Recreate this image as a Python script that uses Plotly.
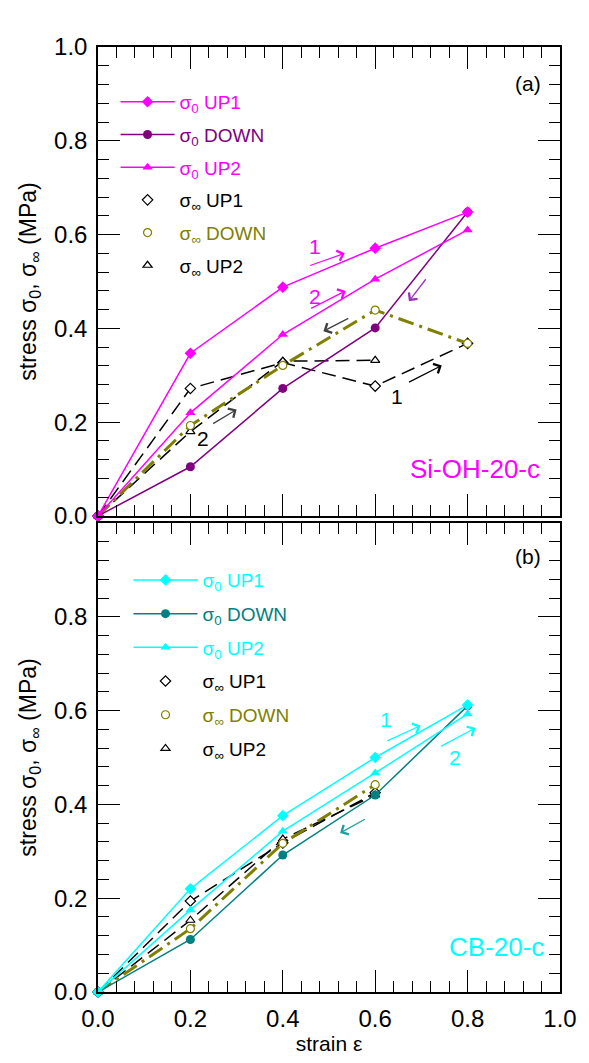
import plotly.graph_objects as go

# strain levels (shared by both samples)
strain = [0.0, 0.2, 0.4, 0.6, 0.8]
strain_short = [0.0, 0.2, 0.4, 0.6]

# (a) Si-OH-20-c  -- stresses in MPa
a_s0_up1 = [0.0, 0.347, 0.488, 0.571, 0.648]
a_s0_down = [0.0, 0.105, 0.272, 0.401, 0.648]
a_s0_up2 = [0.0, 0.220, 0.387, 0.505, 0.610]
a_sinf_up1 = [0.0, 0.272, 0.327, 0.277, 0.368]
a_sinf_down = [0.0, 0.193, 0.321, 0.439, 0.368]
a_sinf_up2 = [0.0, 0.180, 0.330, 0.332]

# (b) CB-20-c
b_s0_up1 = [0.0, 0.220, 0.376, 0.500, 0.612]
b_s0_down = [0.0, 0.112, 0.292, 0.420, 0.610]
b_s0_up2 = [0.0, 0.175, 0.343, 0.467, 0.593]
b_sinf_up1 = [0.0, 0.194, 0.318, 0.425]
b_sinf_down = [0.0, 0.135, 0.317, 0.442]
b_sinf_up2 = [0.0, 0.153, 0.326, 0.420]

tick_vals = [0.0, 0.2, 0.4, 0.6, 0.8, 1.0]
tick_text_a = ["0.0", "0.2", "0.4", "0.6", "0.8", "1.0"]
tick_text_b = ["0.0", "0.2", "0.4", "0.6", "0.8", ""]

FONT = "Liberation Sans, Arial, sans-serif"
MAGENTA = "#ff00ff"
PURPLE = "#800080"
CYAN = "#00ffff"
TEAL = "#008080"
OLIVE = "#808000"
BLACK = "#000000"

fig = go.Figure()


def label(txt, color):
    return f'<span style="color:{color}">{txt}</span>'


def add_panel(xa, ya, leg, c_up, c_down, s0_up1, s0_down, s0_up2,
              sinf_up1, x_up1, sinf_down, x_down, sinf_up2, x_up2, tag):
    # sigma_infinity curves (drawn underneath)
    fig.add_trace(go.Scatter(
        x=x_up1, y=sinf_up1, xaxis=xa, yaxis=ya, mode="lines+markers",
        line=dict(color=BLACK, width=1.5, dash="14px,7px"),
        marker=dict(symbol="diamond", size=8, color="white",
                    line=dict(color=BLACK, width=1.2)),
        cliponaxis=False, showlegend=False, legendgroup=tag + "4"))
    fig.add_trace(go.Scatter(
        x=x_up2, y=sinf_up2, xaxis=xa, yaxis=ya, mode="lines+markers",
        line=dict(color=BLACK, width=1.5, dash="14px,7px"),
        marker=dict(symbol="triangle-up", size=8, color="white",
                    line=dict(color=BLACK, width=1.2)),
        cliponaxis=False, showlegend=False, legendgroup=tag + "6"))
    fig.add_trace(go.Scatter(
        x=x_down, y=sinf_down, xaxis=xa, yaxis=ya, mode="lines+markers",
        line=dict(color=OLIVE, width=3, dash="16px,6px,3px,6px"),
        marker=dict(symbol="circle", size=8, color="white",
                    line=dict(color=OLIVE, width=1.2)),
        cliponaxis=False, showlegend=False, legendgroup=tag + "5"))
    # sigma_0 curves
    fig.add_trace(go.Scatter(
        x=strain, y=s0_down, xaxis=xa, yaxis=ya, mode="lines+markers",
        line=dict(color=c_down, width=1.5),
        marker=dict(symbol="circle", size=9, color=c_down),
        cliponaxis=False, legend=leg, legendgroup=tag + "2", legendrank=2,
        name=label("σ<sub>0</sub> DOWN", c_down)))
    fig.add_trace(go.Scatter(
        x=strain, y=s0_up2, xaxis=xa, yaxis=ya, mode="lines+markers",
        line=dict(color=c_up, width=1.5),
        marker=dict(symbol="triangle-up", size=9, color=c_up),
        cliponaxis=False, legend=leg, legendgroup=tag + "3", legendrank=3,
        name=label("σ<sub>0</sub> UP2", c_up)))
    fig.add_trace(go.Scatter(
        x=strain, y=s0_up1, xaxis=xa, yaxis=ya, mode="lines+markers",
        line=dict(color=c_up, width=1.5),
        marker=dict(symbol="diamond", size=9, color=c_up),
        cliponaxis=False, legend=leg, legendgroup=tag + "1", legendrank=1,
        name=label("σ<sub>0</sub> UP1", c_up)))
    # marker-only legend keys for the sigma_infinity curves
    keys = [("diamond", BLACK, "σ<sub>∞</sub> UP1", "4", 4),
            ("circle", OLIVE, "σ<sub>∞</sub> DOWN", "5", 5),
            ("triangle-up", BLACK, "σ<sub>∞</sub> UP2", "6", 6)]
    for sym, col, txt, g, rank in keys:
        fig.add_trace(go.Scatter(
            x=[None], y=[None], xaxis=xa, yaxis=ya, mode="markers",
            marker=dict(symbol=sym, size=8, color="white",
                        line=dict(color=col, width=1.2)),
            legend=leg, legendgroup=tag + g, legendrank=rank,
            name=label(txt, col)))


add_panel("x", "y", "legend", MAGENTA, PURPLE, a_s0_up1, a_s0_down, a_s0_up2,
          a_sinf_up1, strain, a_sinf_down, strain, a_sinf_up2, strain_short, "a")
add_panel("x2", "y2", "legend2", CYAN, TEAL, b_s0_up1, b_s0_down, b_s0_up2,
          b_sinf_up1, strain_short, b_sinf_down, strain_short, b_sinf_up2,
          strain_short, "b")

axis_common = dict(
    range=[0, 1], showgrid=False, zeroline=False, showline=True,
    linecolor=BLACK, linewidth=1.5, mirror="allticks",
    ticks="inside", ticklen=22, tickwidth=1.3, tickcolor=BLACK,
    tickvals=tick_vals,
    minor=dict(dtick=0.04, tick0=0, ticks="inside", ticklen=11,
               tickwidth=1.3, tickcolor=BLACK),
    tickfont=dict(family=FONT, size=24, color=BLACK),
)

ytitle = "stress σ<sub>0</sub>, σ<sub>∞</sub> (MPa)"

fig.update_layout(
    width=589, height=1063,
    margin=dict(l=98, r=22, t=47, b=71),
    paper_bgcolor="white", plot_bgcolor="white",
    font=dict(family=FONT, color=BLACK),
    xaxis=dict(axis_common, anchor="y", domain=[0, 1], showticklabels=False),
    yaxis=dict(axis_common, anchor="x", domain=[0.5037, 1.0],
               ticktext=tick_text_a, ticklabelstandoff=4,
               title=dict(text=ytitle, font=dict(family=FONT, size=23),
                          standoff=11)),
    xaxis2=dict(axis_common, anchor="y2", domain=[0, 1],
                ticktext=["0.0", "0.2", "0.4", "0.6", "0.8", "1.0"],
                ticklabelstandoff=4,
                title=dict(text="strain ε", font=dict(family=FONT, size=21),
                           standoff=4)),
    yaxis2=dict(axis_common, anchor="x2", domain=[0, 0.4963],
                ticktext=tick_text_b, ticklabelstandoff=4,
                title=dict(text=ytitle, font=dict(family=FONT, size=23),
                           standoff=11)),
    legend=dict(x=0.038, y=0.962, xanchor="left", yanchor="top",
                bgcolor="rgba(0,0,0,0)", tracegroupgap=5, itemwidth=54,
                font=dict(family=FONT, size=19)),
    legend2=dict(x=0.066, y=0.456, xanchor="left", yanchor="top",
                 bgcolor="rgba(0,0,0,0)", tracegroupgap=6, itemwidth=64,
                 font=dict(family=FONT, size=19)),
)

# direction arrows: (tail x, tail y, head x, head y, colour, axes)
arrows = [
    (0.456, 0.533, 0.534, 0.560, MAGENTA, "x", "y"),
    (0.458, 0.441, 0.536, 0.480, MAGENTA, "x", "y"),
    (0.712, 0.508, 0.673, 0.458, "#9933bb", "x", "y"),
    (0.670, 0.284, 0.744, 0.321, BLACK, "x", "y"),
    (0.545, 0.423, 0.488, 0.394, "#404040", "x", "y"),
    (0.246, 0.195, 0.300, 0.227, "#404040", "x", "y"),
    (0.623, 0.534, 0.698, 0.568, CYAN, "x2", "y2"),
    (0.739, 0.522, 0.817, 0.563, CYAN, "x2", "y2"),
    (0.581, 0.370, 0.524, 0.339, "#20a0a0", "x2", "y2"),
]
for tx, ty, hx, hy, col, xr, yr in arrows:
    fig.add_annotation(x=hx, y=hy, ax=tx, ay=ty, xref=xr, yref=yr,
                       axref=xr, ayref=yr, text="", showarrow=True,
                       arrowhead=4, arrowsize=1.6, arrowwidth=1.3,
                       arrowcolor=col)

# branch numbers and panel labels
texts = [
    (0.470, 0.575, "1", MAGENTA, 21, "x", "y"),
    (0.470, 0.468, "2", MAGENTA, 21, "x", "y"),
    (0.648, 0.255, "1", BLACK, 21, "x", "y"),
    (0.228, 0.166, "2", BLACK, 21, "x", "y"),
    (0.623, 0.582, "1", CYAN, 21, "x2", "y2"),
    (0.773, 0.500, "2", CYAN, 21, "x2", "y2"),
    (0.93, 0.922, "(a)", BLACK, 21, "x", "y"),
    (0.93, 0.929, "(b)", BLACK, 21, "x2", "y2"),
]
for x, y, t, col, sz, xr, yr in texts:
    fig.add_annotation(x=x, y=y, xref=xr, yref=yr, text=t, showarrow=False,
                       font=dict(family=FONT, size=sz, color=col))

fig.add_annotation(x=0.962, y=0.10, xref="x", yref="y", text="Si-OH-20-c",
                   xanchor="right", showarrow=False,
                   font=dict(family=FONT, size=26, color=MAGENTA))
fig.add_annotation(x=0.97, y=0.096, xref="x2", yref="y2", text="CB-20-c",
                   xanchor="right", showarrow=False,
                   font=dict(family=FONT, size=26, color=CYAN))

fig.write_html("out.html")
